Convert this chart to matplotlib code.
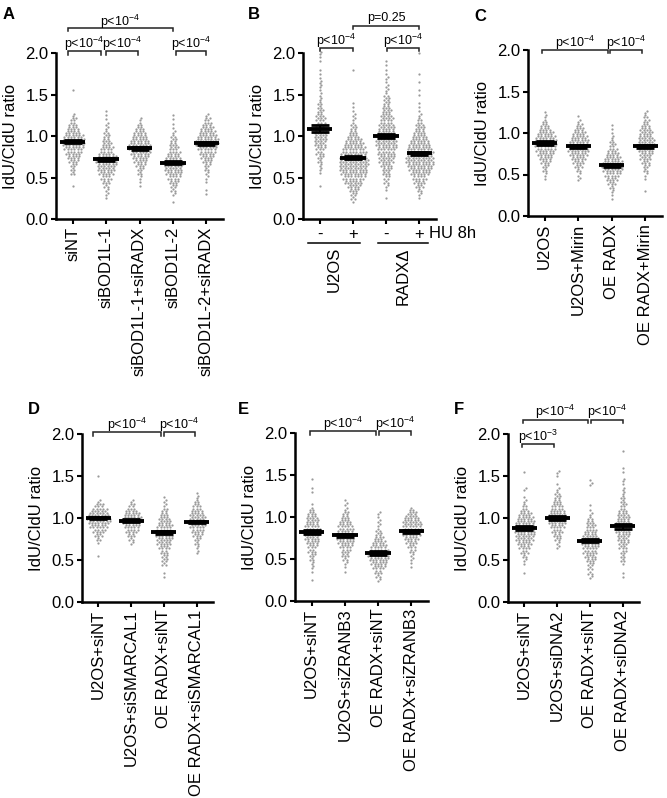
import matplotlib.pyplot as plt
import numpy as np

plt.rcParams['font.family'] = ['Liberation Sans', 'DejaVu Sans']
plt.rcParams['mathtext.fontset'] = 'custom'
plt.rcParams['mathtext.rm'] = 'Liberation Sans'
plt.rcParams['mathtext.default'] = 'regular'

# cells counted per 0.05 ratio bin, first bin at 0.20
BIN_START = 0.20
BIN_STEP = 0.05

labels_A = ['siNT', 'siBOD1L-1', 'siBOD1L-1+siRADX', 'siBOD1L-2', 'siBOD1L-2+siRADX']
counts_A = [
    [0,0,0,0,1,0,0,3,3,4,6,8,10,12,14,14,12,9,7,5,4,2,0,0,0,0,0,1],
    [0,1,2,2,3,5,7,9,11,12,13,12,9,8,6,5,4,3,2,2,1,1,1],
    [0,0,0,0,1,1,2,3,4,6,8,10,12,13,13,11,9,7,5,3,2],
    [1,0,2,3,4,6,8,10,11,12,11,9,8,6,5,4,3,2,1,1,1,1],
    [0,0,1,1,0,1,2,2,3,4,6,8,10,12,14,14,12,10,8,6,4,2],
]
means_A = [0.93, 0.72, 0.85, 0.68, 0.91]
sems_A = [0.02, 0.02, 0.02, 0.02, 0.02]

labels_B = ['-', '+', '-', '+']
groups_B = ['U2OS', 'RADX\u0394']
counts_B = [
    [0,0,0,0,1,0,0,1,2,2,3,4,5,6,7,8,8,8,7,6,6,5,4,3,3,2,2,1,2,2,1,1,1,0,1,1,2],
    [1,3,4,6,8,11,14,16,17,18,18,17,16,14,12,10,7,5,4,3,2,2,1,1,1,0,0,0,0,0,0,0,1],
    [0,1,0,1,2,3,4,5,6,7,9,10,11,12,13,13,12,11,10,9,8,7,6,5,4,4,3,2,2,1,2,1,1,1,1],
    [0,1,2,3,5,7,9,12,14,16,17,17,16,15,13,11,9,7,6,5,3,2,1,1,1,0,1,1,0,1,0,1,0,0,0,0,1],
]
means_B = [1.09, 0.74, 1.00, 0.79]
sems_B = [0.04, 0.015, 0.025, 0.015]

labels_C = ['U2OS', 'U2OS+Mirin', 'OE RADX', 'OE RADX+Mirin']
counts_C = [
    [0,0,0,0,0,1,2,3,4,6,8,10,12,14,14,12,10,7,5,3,2,1],
    [0,0,0,0,0,2,2,3,5,7,9,11,13,13,12,10,8,6,4,2,1],
    [1,1,2,3,5,7,10,12,13,12,10,8,6,4,3,2,1,1,1],
    [0,0,1,0,0,1,2,3,4,5,7,8,9,10,10,9,8,7,5,4,3,2],
]
means_C = [0.88, 0.84, 0.61, 0.84]
sems_C = [0.02, 0.02, 0.02, 0.02]

labels_D = ['U2OS+siNT', 'U2OS+siSMARCAL1', 'OE RADX+siNT', 'OE RADX+siSMARCAL1']
counts_D = [
    [0,0,0,0,0,0,0,1,0,0,1,3,5,8,11,14,15,13,10,6,2,0,0,0,0,0,1],
    [0,0,0,0,0,0,0,0,0,0,2,3,5,8,10,12,12,10,7,4,2],
    [0,0,1,1,0,3,4,4,5,7,9,10,11,11,10,8,7,5,4,2,2,1],
    [0,0,0,0,0,0,0,0,2,2,3,4,6,8,10,11,10,9,7,5,3,2,1],
]
means_D = [1.00, 0.97, 0.83, 0.95]
sems_D = [0.015, 0.015, 0.02, 0.015]

labels_E = ['U2OS+siNT', 'U2OS+siZRANB3', 'OE RADX+siNT', 'OE RADX+siZRANB3']
counts_E = [
    [0,1,0,1,2,2,3,4,5,6,8,9,10,10,9,8,7,5,3,1,0,0,1,1,0,1],
    [0,0,0,1,1,2,3,5,6,8,10,11,11,10,9,7,5,4,2,2,1],
    [0,2,3,5,8,10,12,13,12,10,8,6,4,3,2,2,1,2],
    [0,0,0,0,1,1,2,2,4,5,7,9,11,12,12,11,9,6,3],
]
means_E = [0.82, 0.78, 0.57, 0.83]
sems_E = [0.02, 0.02, 0.02, 0.02]

labels_F = ['U2OS+siNT', 'U2OS+siDNA2', 'OE RADX+siNT', 'OE RADX+siDNA2']
counts_F = [
    [0,0,0,1,0,1,2,3,5,7,9,11,12,13,13,12,10,8,5,3,2,1,0,2,0,0,0,1],
    [0,0,0,0,0,0,0,0,0,2,2,4,5,7,9,11,12,11,9,7,5,4,3,2,1,0,1,2],
    [0,0,2,3,3,4,6,7,9,10,11,10,9,8,6,5,3,2,1,1,0,0,0,0,2,1],
    [0,0,1,1,0,1,3,3,4,5,6,7,8,9,9,9,8,7,5,4,3,3,2,2,1,2,0,1,1,0,0,0,1],
]
means_F = [0.88, 1.00, 0.73, 0.90]
sems_F = [0.02, 0.02, 0.02, 0.025]

P4 = 'p<10$^{-4}$'
P3 = 'p<10$^{-3}$'


def swarm_points(counts, center, dx=0.1, dy=0.0125):
    xs, ys = [], []
    for i, n in enumerate(counts):
        if n == 0:
            continue
        y = BIN_START + i * BIN_STEP
        if n == 1:
            rows = [(1, y, 0)]
        else:
            # two staggered sub-rows per bin, like a prism scatter dot plot
            rows = [((n + 1) // 2, y - dy, 0), (n // 2, y + dy, 1)]
        for m, yy, k in rows:
            offs = (np.arange(m) - (m - 1) / 2) * dx
            if k and m % 2 == (n + 1) // 2 % 2:
                offs = offs + dx / 2
            xs.extend(center + offs)
            ys.extend([yy] * m)
    return np.array(xs), np.array(ys)


def make_axes(fig, box):
    # box in pixels: left, right, top, bottom
    W, H = 667, 798
    l, r, t, b = box
    return fig.add_axes([l / W, 1 - b / H, (r - l) / W, (b - t) / H])


def draw_panel(ax, counts, means, sems, labels):
    n = len(counts)
    for i in range(n):
        x, y = swarm_points(counts[i], i)
        ax.scatter(x, y, s=2.6, color='#9a9a9a', linewidths=0, clip_on=False, zorder=2)
        ax.hlines(means[i], i - 0.38, i + 0.38, color='black', lw=2.8, zorder=3)
        ax.errorbar(i, means[i], yerr=sems[i], color='black', capsize=6.5,
                    capthick=2, elinewidth=1.5, zorder=3)
    ax.set_xlim(-0.5, n - 0.5)
    ax.set_ylim(0, 2.0)
    ax.set_yticks([0, 0.5, 1.0, 1.5, 2.0])
    ax.set_yticklabels(['0.0', '0.5', '1.0', '1.5', '2.0'])
    ax.set_xticks(range(n))
    ax.set_xticklabels(labels, rotation=90, fontsize=12)
    ax.tick_params(axis='both', labelsize=12, width=1.5, length=3.5, pad=2)
    for s in ['top', 'right']:
        ax.spines[s].set_visible(False)
    for s in ['left', 'bottom']:
        ax.spines[s].set_linewidth(1.8)
    ax.set_ylabel('IdU/CldU ratio', fontsize=12, labelpad=5)


def bracket(ax, x1, x2, y, text, drop=0.04, toff=0.09):
    ax.plot([x1, x1, x2, x2], [y - drop, y, y, y - drop], color='#222222',
            lw=1.1, clip_on=False, solid_joinstyle='miter')
    ax.text((x1 + x2) / 2, y + toff, text, ha='center', va='center', fontsize=9)


fig = plt.figure(figsize=(6.67, 7.98), dpi=100)

axA = make_axes(fig, (56, 223, 53, 219))
draw_panel(axA, counts_A, means_A, sems_A, labels_A)
bracket(axA, -0.15, 0.85, 2.02, P4)
bracket(axA, 1.0, 1.95, 2.02, P4)
bracket(axA, 3.1, 4.0, 2.02, P4)
bracket(axA, -0.15, 3.0, 2.30, P4, toff=0.075)

axB = make_axes(fig, (303, 436, 53, 219))
draw_panel(axB, counts_B, means_B, sems_B, labels_B)
axB.set_xticklabels(labels_B, rotation=0, fontsize=12)
bracket(axB, 0, 1, 2.06, P4)
bracket(axB, 2.03, 3.0, 2.06, P4)
bracket(axB, 1.0, 3.0, 2.33, 'p=0.25')
for (a, b), g in zip([(-0.35, 1.2), (1.75, 3.25)], groups_B):
    axB.plot([a, b], [-0.29, -0.29], color='black', lw=1.1, clip_on=False)
    axB.text((a + b) / 2, -0.34, g, rotation=90, ha='center', va='top', fontsize=12)
axB.text(3.3, -0.17, 'HU 8h', ha='left', va='center', fontsize=12)

axC = make_axes(fig, (528, 662, 50, 216))
draw_panel(axC, counts_C, means_C, sems_C, labels_C)
bracket(axC, -0.08, 1.9, 2.0, P4)
bracket(axC, 1.95, 2.9, 2.0, P4)

axD = make_axes(fig, (82, 213, 434, 602))
draw_panel(axD, counts_D, means_D, sems_D, labels_D)
bracket(axD, -0.15, 1.9, 2.02, P4)
bracket(axD, 2.0, 2.95, 2.02, P4)

axE = make_axes(fig, (295, 428, 433, 601))
draw_panel(axE, counts_E, means_E, sems_E, labels_E)
bracket(axE, -0.05, 1.93, 2.02, P4)
bracket(axE, 2.03, 3.0, 2.02, P4)

axF = make_axes(fig, (508, 639, 434, 602))
draw_panel(axF, counts_F, means_F, sems_F, labels_F)
bracket(axF, -0.08, 0.9, 1.88, P3)
bracket(axF, -0.05, 1.93, 2.17, P4)
bracket(axF, 2.03, 3.0, 2.17, P4)

for letter, x, y in [('A', 3, 7), ('B', 248, 7), ('C', 474, 9),
                     ('D', 28, 402), ('E', 238, 402), ('F', 454, 402)]:
    fig.text(x / 667, 1 - y / 798, letter, fontsize=12, fontweight='bold',
             ha='left', va='top')

fig.savefig('out.png', dpi=100)
